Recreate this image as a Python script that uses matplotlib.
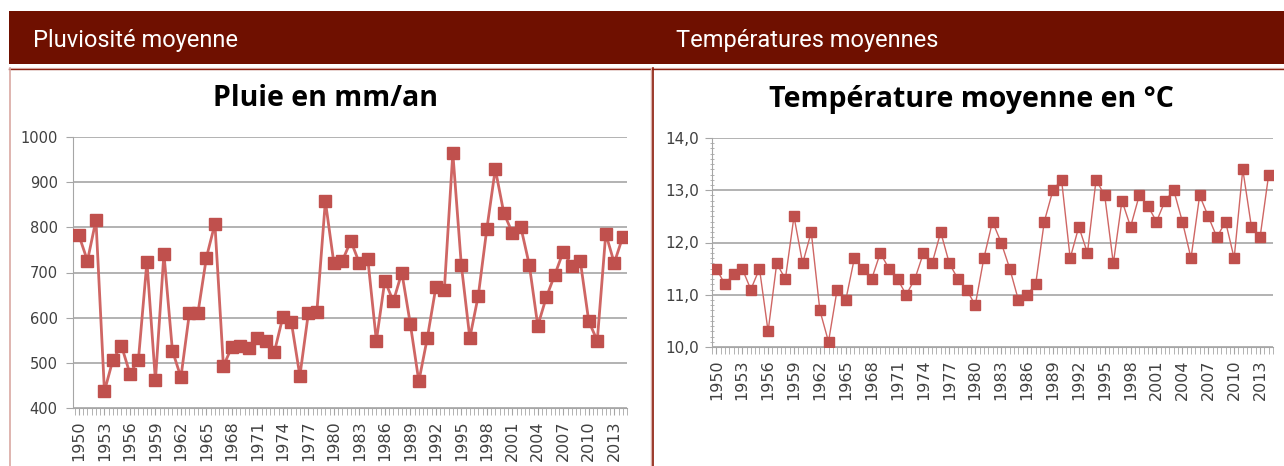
import matplotlib
matplotlib.use("Agg")
import matplotlib.pyplot as plt
from matplotlib.patches import Rectangle
from matplotlib.lines import Line2D
from matplotlib.ticker import MultipleLocator, FixedLocator

years = list(range(1950, 2015))
rain_mm = [782, 726, 816, 437, 507, 538, 476, 507, 724, 461,
           742, 527, 468, 610, 610, 733, 808, 493, 535, 538,
           532, 554, 549, 524, 602, 590, 471, 610, 613, 858,
           721, 726, 770, 721, 729, 549, 682, 636, 700, 586,
           459, 555, 667, 661, 965, 717, 555, 649, 796, 929,
           832, 788, 801, 717, 582, 645, 695, 746, 715, 726,
           592, 549, 786, 721, 779]
temp_c = [11.5, 11.2, 11.4, 11.5, 11.1, 11.5, 10.3, 11.6, 11.3, 12.5,
          11.6, 12.2, 10.7, 10.1, 11.1, 10.9, 11.7, 11.5, 11.3, 11.8,
          11.5, 11.3, 11.0, 11.3, 11.8, 11.6, 12.2, 11.6, 11.3, 11.1,
          10.8, 11.7, 12.4, 12.0, 11.5, 10.9, 11.0, 11.2, 12.4, 13.0,
          13.2, 11.7, 12.3, 11.8, 13.2, 12.9, 11.6, 12.8, 12.3, 12.9,
          12.7, 12.4, 12.8, 13.0, 12.4, 11.7, 12.9, 12.5, 12.1, 12.4,
          11.7, 13.4, 12.3, 12.1, 13.3]
tick_years = list(range(1950, 2015, 3))
rain_ticks = [400, 500, 600, 700, 800, 900, 1000]
temp_ticks = [10, 11, 12, 13, 14]
temp_labels = ["10,0", "11,0", "12,0", "13,0", "14,0"]

plt.rcParams["font.family"] = ["DejaVu Sans"]

W, H = 1284, 466
fig = plt.figure(figsize=(W / 100, H / 100), dpi=100)
fig.patch.set_facecolor("white")

def rect(x0, y0, x1, y1):
    return [x0 / W, 1 - y1 / H, (x1 - x0) / W, (y1 - y0) / H]

HEAD = "#6f1000"
# header bar
fig.patches.append(Rectangle((9 / W, 1 - 64 / H), (W - 9) / W, 53 / H,
                             transform=fig.transFigure, facecolor=HEAD,
                             edgecolor="none"))
fig.text(33 / W, 1 - 40 / H, "Pluviosité moyenne", color="white",
         fontsize=17, family="Roboto", va="center", ha="left")
fig.text(676 / W, 1 - 40 / H, "Températures moyennes", color="white",
         fontsize=17, family="Roboto", va="center", ha="left")

# panel borders
def fline(xs, ys, color, lw):
    fig.lines.append(Line2D([x / W for x in xs], [1 - y / H for y in ys],
                            transform=fig.transFigure, color=color, lw=lw))

fline([9, W], [67.5, 67.5], "#e8c8c4", 1.0)
fline([9, W], [68.5, 68.5], "#8b2010", 1.0)
fline([10, 10], [68, H], "#d9a8a2", 1.2)
fline([651, 651], [68, H], "#d9b0aa", 1.0)
fline([652.8, 652.8], [68, H], "#8b1a08", 1.2)

MK = "#c0504d"
LN = "#cf6664"
TXT = "#404040"
GRID = "#a6a6a6"

def style(ax, xlim):
    ax.set_xlim(*xlim)
    for s in ["top", "right"]:
        ax.spines[s].set_visible(False)
    ax.spines["left"].set_color(GRID)
    ax.spines["bottom"].set_color(GRID)
    ax.yaxis.grid(True, color=GRID, lw=1.2)
    ax.set_axisbelow(True)
    ax.xaxis.set_major_locator(FixedLocator(tick_years))
    ax.set_xticklabels([str(y) for y in tick_years], rotation=90,
                       fontsize=11.5, color=TXT)
    ax.xaxis.set_minor_locator(MultipleLocator(0.5))
    ax.tick_params(axis="x", which="both", length=5, color=GRID, pad=4)
    ax.tick_params(axis="y", colors=TXT, labelsize=10.5, color=GRID, length=5)

# left chart
ax1 = fig.add_axes(rect(73, 137, 627, 408))
ax1.plot(years, rain_mm, color=LN, lw=2.0, marker="s", markersize=8,
         markerfacecolor=MK, markeredgecolor=MK, zorder=3)
ax1.set_ylim(400, 1000)
ax1.set_yticks(rain_ticks)
ax1.set_yticklabels([str(v) for v in rain_ticks])
style(ax1, (1949.3, 2014.5))
ax1.tick_params(axis="y", pad=6)
fig.text(326 / W, 1 - 99 / H, "Pluie en mm/an", fontsize=20.5,
         fontweight="bold", family="Open Sans", ha="center", va="center",
         color="black")

# right chart
ax2 = fig.add_axes(rect(712, 138, 1273, 347))
ax2.plot(years, temp_c, color=LN, lw=1.0, marker="s", markersize=7.5,
         markerfacecolor=MK, markeredgecolor=MK, zorder=3)
ax2.set_ylim(10, 14)
ax2.yaxis.set_minor_locator(MultipleLocator(0.1))
ax2.set_yticks(temp_ticks)
ax2.set_yticklabels(temp_labels)
style(ax2, (1949.5, 2014.5))
ax2.tick_params(axis="y", which="minor", length=3, color=GRID,
                direction="inout")
ax2.tick_params(axis="y", which="major", pad=4, labelsize=11)
fig.text(971 / W, 1 - 99 / H, "Température moyenne en °C", fontsize=20.5,
         fontweight="bold", family="Open Sans", ha="center", va="center",
         color="black")

fig.savefig("out.png", dpi=100)
